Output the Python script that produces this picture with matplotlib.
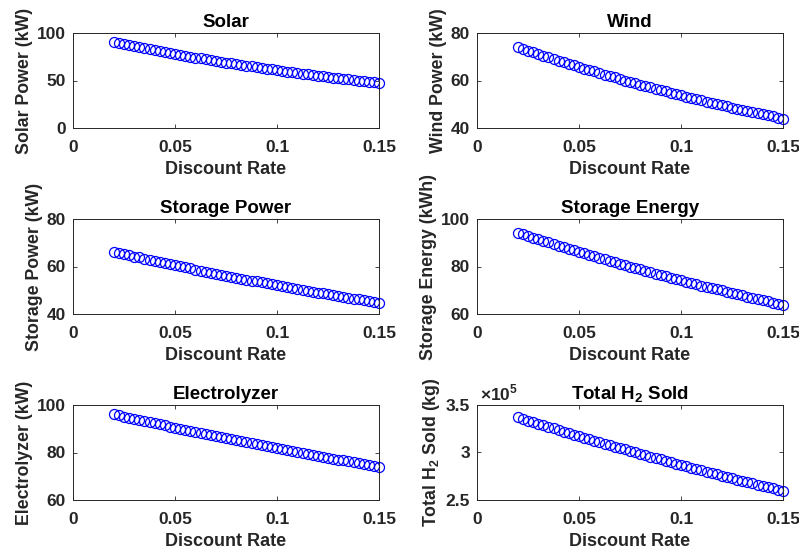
import matplotlib
matplotlib.use("Agg")
import matplotlib.pyplot as plt

plt.rcParams['font.family'] = ['Liberation Sans', 'DejaVu Sans']
plt.rcParams['font.weight'] = 'bold'
plt.rcParams['mathtext.fontset'] = 'custom'
plt.rcParams['mathtext.rm'] = 'Liberation Sans'
plt.rcParams['mathtext.bf'] = 'Liberation Sans:bold'

# ---------------- data ----------------
discount_rate = [0.02, 0.0225, 0.025, 0.0275, 0.03, 0.0325, 0.035, 0.0375, 0.04, 0.0425,
                 0.045, 0.0475, 0.05, 0.0525, 0.055, 0.0575, 0.06, 0.0625, 0.065, 0.0675,
                 0.07, 0.0725, 0.075, 0.0775, 0.08, 0.0825, 0.085, 0.0875, 0.09, 0.0925,
                 0.095, 0.0975, 0.1, 0.1025, 0.105, 0.1075, 0.11, 0.1125, 0.115, 0.1175,
                 0.12, 0.1225, 0.125, 0.1275, 0.13, 0.1325, 0.135, 0.1375, 0.14, 0.1425,
                 0.145, 0.1475, 0.15]

solar_kw = [90.5, 89.4, 88.3, 87.2, 86.1, 85.1, 84.0, 83.0, 82.0, 80.9,
            79.9, 79.0, 78.0, 77.0, 76.1, 75.1, 74.2, 73.3, 72.4, 71.5,
            70.6, 69.8, 68.9, 68.1, 67.2, 66.4, 65.6, 64.8, 64.0, 63.2,
            62.4, 61.6, 60.9, 60.1, 59.4, 58.6, 57.9, 57.2, 56.5, 55.8,
            55.1, 54.4, 53.8, 53.1, 52.5, 51.8, 51.2, 50.5, 49.9, 49.3,
            48.7, 48.1, 47.5]

wind_kw = [74.1, 73.4, 72.6, 71.9, 71.2, 70.5, 69.8, 69.1, 68.4, 67.7,
           67.0, 66.4, 65.7, 65.0, 64.4, 63.8, 63.1, 62.5, 61.9, 61.3,
           60.6, 60.0, 59.4, 58.8, 58.3, 57.7, 57.1, 56.5, 56.0, 55.4,
           54.9, 54.3, 53.8, 53.2, 52.7, 52.2, 51.7, 51.1, 50.6, 50.1,
           49.6, 49.1, 48.6, 48.2, 47.7, 47.2, 46.7, 46.3, 45.8, 45.3,
           44.9, 44.4, 44.0]

storage_power_kw = [66.2, 65.7, 65.2, 64.7, 64.2, 63.8, 63.3, 62.8, 62.3, 61.9,
                    61.4, 61.0, 60.5, 60.1, 59.6, 59.2, 58.7, 58.3, 57.8, 57.4,
                    57.0, 56.6, 56.1, 55.7, 55.3, 54.9, 54.5, 54.1, 53.7, 53.3,
                    52.9, 52.5, 52.1, 51.7, 51.3, 50.9, 50.5, 50.2, 49.8, 49.4,
                    49.0, 48.7, 48.3, 48.0, 47.6, 47.2, 46.9, 46.5, 46.2, 45.8,
                    45.5, 45.2, 44.8]

storage_energy_kwh = [94.3, 93.6, 92.9, 92.2, 91.5, 90.8, 90.2, 89.5, 88.8, 88.1,
                      87.5, 86.8, 86.2, 85.5, 84.9, 84.3, 83.6, 83.0, 82.4, 81.8,
                      81.2, 80.6, 80.0, 79.4, 78.8, 78.2, 77.6, 77.0, 76.4, 75.9,
                      75.3, 74.7, 74.2, 73.6, 73.1, 72.5, 72.0, 71.5, 70.9, 70.4,
                      69.9, 69.3, 68.8, 68.3, 67.8, 67.3, 66.8, 66.3, 65.8, 65.3,
                      64.8, 64.3, 63.9]

electrolyzer_kw = [96.1, 95.6, 95.1, 94.7, 94.2, 93.7, 93.2, 92.8, 92.3, 91.9,
                   91.4, 90.9, 90.5, 90.0, 89.6, 89.1, 88.7, 88.2, 87.8, 87.4,
                   86.9, 86.5, 86.0, 85.6, 85.2, 84.8, 84.3, 83.9, 83.5, 83.1,
                   82.7, 82.2, 81.8, 81.4, 81.0, 80.6, 80.2, 79.8, 79.4, 79.0,
                   78.6, 78.2, 77.8, 77.4, 77.0, 76.7, 76.3, 75.9, 75.5, 75.1,
                   74.8, 74.4, 74.0]

h2_sold_kg = [337000, 335300, 333600, 332000, 330300, 328600, 327000, 325400, 323700, 322100,
              320500, 318900, 317300, 315700, 314100, 312500, 311000, 309400, 307900, 306300,
              304800, 303300, 301700, 300200, 298700, 297200, 295700, 294300, 292800, 291300,
              289900, 288400, 287000, 285500, 284100, 282700, 281300, 279900, 278500, 277100,
              275700, 274300, 272900, 271500, 270200, 268800, 267500, 266100, 264800, 263500,
              262200, 260900, 259500]

x_ticks = [0, 0.05, 0.1, 0.15]
x_tick_labels = ['0', '0.05', '0.1', '0.15']

titles = ['Solar', 'Wind', 'Storage Power', 'Storage Energy', 'Electrolyzer',
          r'Total H$_\mathbf{2}$ Sold']
ylabels = ['Solar Power (kW)', 'Wind Power (kW)', 'Storage Power (kW)',
           'Storage Energy (kWh)', 'Electrolyzer (kW)', r'Total H$_\mathbf{2}$ Sold (kg)']
series = [solar_kw, wind_kw, storage_power_kw, storage_energy_kwh, electrolyzer_kw, h2_sold_kg]
ylims = [(0, 100), (40, 80), (40, 80), (60, 100), (60, 100), (2.5e5, 3.5e5)]
yticks = [[0, 50, 100], [40, 60, 80], [40, 60, 80], [60, 80, 100], [60, 80, 100],
          [2.5e5, 3.0e5, 3.5e5]]
ytick_labels = [['0', '50', '100'], ['40', '60', '80'], ['40', '60', '80'],
                ['60', '80', '100'], ['60', '80', '100'], ['2.5', '3', '3.5']]
h2_exponent_label = r'$\times10^{5}$'

# ---------------- figure ----------------
W, H = 799, 556
fig = plt.figure(figsize=(W / 100, H / 100), dpi=100)
txt = '#262626'

lefts = [73, 477]
tops = [33, 219, 405]
aw, ah = 306, 95

for k in range(6):
    r, c = divmod(k, 2)
    ax = fig.add_axes([lefts[c] / W, 1 - (tops[r] + ah) / H, aw / W, ah / H])
    ax.plot(discount_rate, series[k], 'o', mfc='none', mec='#0000ff', ms=7.2,
            mew=0.9, clip_on=False)
    ax.set_xlim(0, 0.15)
    ax.set_ylim(*ylims[k])
    ax.set_xticks(x_ticks)
    ax.set_xticklabels(x_tick_labels)
    ax.set_yticks(yticks[k])
    ax.set_yticklabels(ytick_labels[k])
    if k == 5:
        ax.text(0.01, 1.02, h2_exponent_label, transform=ax.transAxes, fontsize=12.5,
                fontweight='normal', color=txt, ha='left', va='bottom')
    ax.set_title(titles[k], fontsize=13.5, fontweight='bold', color='black', pad=4)
    ax.set_xlabel('Discount Rate', fontsize=13, fontweight='bold', color=txt, labelpad=4)
    ax.set_ylabel(ylabels[k], fontsize=12.8, fontweight='bold', color=txt, labelpad=3)
    ax.tick_params(axis='x', pad=9)
    ax.tick_params(axis='y', pad=5)
    ax.tick_params(direction='in', top=True, right=True, length=3, width=0.6,
                   labelsize=12.5, colors=txt)
    for lab in ax.get_xticklabels() + ax.get_yticklabels():
        lab.set_fontweight('bold')
    for sp in ax.spines.values():
        sp.set_color(txt)
        sp.set_linewidth(0.7)

fig.savefig('out.png', dpi=100)
